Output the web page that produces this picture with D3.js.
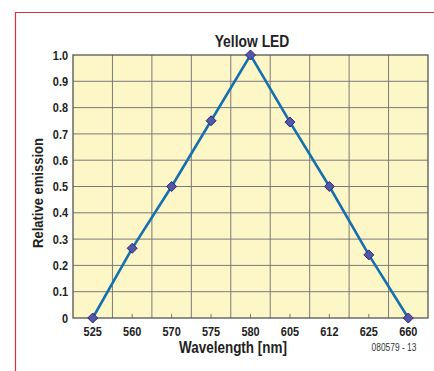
<!DOCTYPE html>
<html><head><meta charset="utf-8">
<script src="https://cdn.jsdelivr.net/npm/d3@7"></script>
<style>html,body{margin:0;padding:0;background:#fff;}svg{display:block;}</style>
</head><body>
<svg id="c" width="434" height="371"></svg>
<script>
const categories = ["525","560","570","575","580","605","612","625","660"];
const emission = [0, 0.265, 0.5, 0.75, 1.0, 0.745, 0.5, 0.24, 0];
const yTicks = [0,0.1,0.2,0.3,0.4,0.5,0.6,0.7,0.8,0.9,1.0];

const svg = d3.select("#c");
const font = "'Liberation Sans', Arial, sans-serif";
const L = 73, R = 428, T = 55, B = 318;

function narrow(sel, k){
  sel.each(function(){
    const w = this.getComputedTextLength();
    d3.select(this).attr("textLength", w*k).attr("lengthAdjust","spacingAndGlyphs");
  });
}

svg.append("path").attr("d","M15.5,371 L15.5,12.5 L434,12.5")
  .attr("fill","none").attr("stroke","#d8303c").attr("stroke-width",1.2);

const x = d3.scaleBand().domain(categories).range([L,R]).padding(0);
const y = d3.scaleLinear().domain([0,1]).range([B,T]);

svg.append("rect").attr("x",L).attr("y",T).attr("width",R-L).attr("height",B-T).attr("fill","#fdf6c6");

const g = svg.append("g");
categories.slice(1).forEach(c=>{
  g.append("line").attr("x1",x(c)).attr("x2",x(c)).attr("y1",T).attr("y2",B)
   .attr("stroke","#7a7a7a").attr("stroke-width",1);
});
yTicks.slice(1,-1).forEach(v=>{
  g.append("line").attr("x1",L).attr("x2",R).attr("y1",y(v)).attr("y2",y(v))
   .attr("stroke","#7a7a7a").attr("stroke-width",1);
});
categories.forEach(c=>{
  const cx = x(c)+x.bandwidth()/2;
  g.append("line").attr("x1",cx).attr("x2",cx).attr("y1",B).attr("y2",B-4)
   .attr("stroke","#7a7a7a").attr("stroke-width",1);
});
svg.append("rect").attr("x",L).attr("y",T).attr("width",R-L).attr("height",B-T)
  .attr("fill","none").attr("stroke","#555").attr("stroke-width",1.3);

const xAxis = d3.axisBottom(x).tickSize(0).tickPadding(9);
const xg = svg.append("g").attr("transform",`translate(0,${B})`).call(xAxis);
xg.select(".domain").remove();
xg.selectAll("text").attr("font-family",font).attr("font-size",13).attr("font-weight","bold").attr("fill","#222").call(narrow,0.84);

const yAxis = d3.axisLeft(y).tickValues(yTicks).tickSize(0).tickPadding(5)
  .tickFormat(d=> d===0 ? "0" : d3.format(".1f")(d));
const yg = svg.append("g").attr("transform",`translate(${L},0)`).call(yAxis);
yg.select(".domain").remove();
yg.selectAll("text").attr("font-family",font).attr("font-size",13).attr("font-weight","bold").attr("fill","#222").call(narrow,0.84);

const line = d3.line().x((d,i)=>x(categories[i])+x.bandwidth()/2).y(d=>y(d));
svg.append("path").datum(emission).attr("d",line).attr("fill","none")
  .attr("stroke","#1670b0").attr("stroke-width",2.6);

svg.selectAll(".m").data(emission).enter().append("path")
  .attr("transform",(d,i)=>`translate(${x(categories[i])+x.bandwidth()/2},${y(d)})`)
  .attr("d","M0,-5 L5,0 L0,5 L-5,0Z")
  .attr("fill","#5656a8").attr("stroke","#2a2a70").attr("stroke-width",1);

svg.append("text").attr("x",252).attr("y",47).attr("text-anchor","middle")
  .attr("font-family",font).attr("font-size",16.5).attr("font-weight","bold").attr("fill","#222").text("Yellow LED").call(narrow,0.84);
svg.append("text").attr("x",233).attr("y",353).attr("text-anchor","middle")
  .attr("font-family",font).attr("font-size",16).attr("font-weight","bold").attr("fill","#222").text("Wavelength [nm]").call(narrow,0.84);
svg.append("text").attr("transform","translate(43,193) rotate(-90)").attr("text-anchor","middle")
  .attr("font-family",font).attr("font-size",15.5).attr("font-weight","bold").attr("fill","#222").text("Relative emission").call(narrow,0.84);
svg.append("text").attr("x",394).attr("y",351).attr("text-anchor","middle")
  .attr("font-family",font).attr("font-size",10).attr("fill","#333").text("080579 - 13").call(narrow,0.84);
</script>
</body></html>
